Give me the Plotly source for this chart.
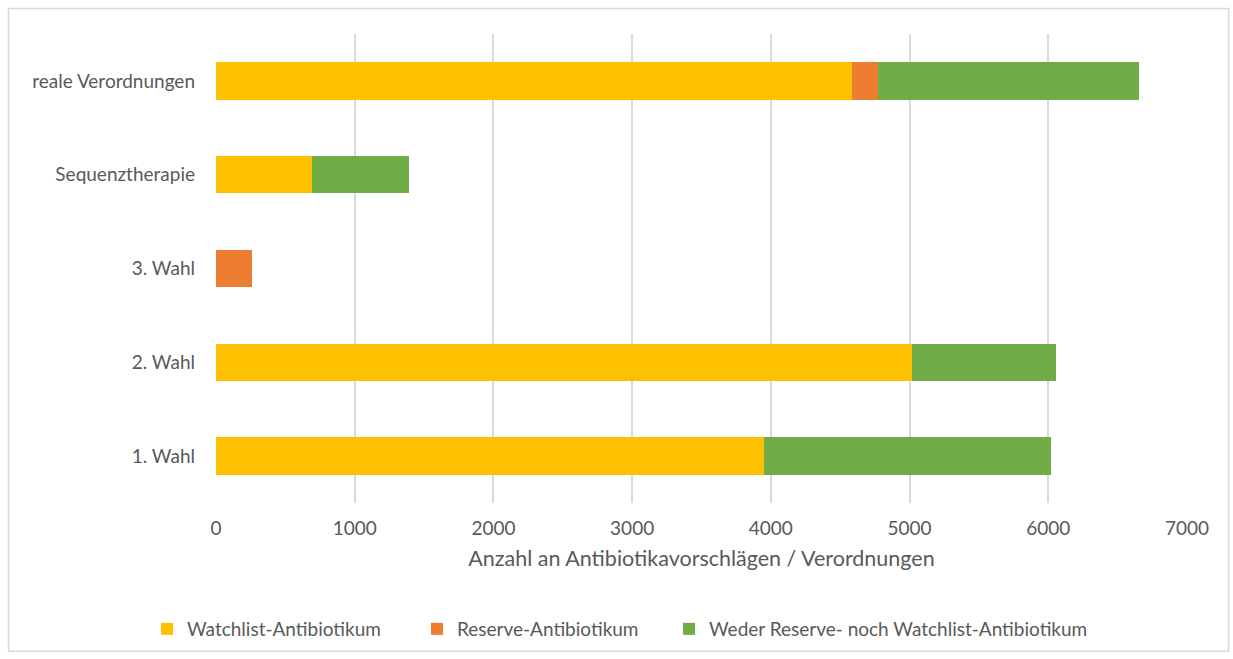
import plotly.graph_objects as go

# Kategorien (von unten nach oben)
categories = ["1. Wahl", "2. Wahl", "3. Wahl", "Sequenztherapie", "reale Verordnungen"]

# Anzahl je Kategorie und Antibiotika-Gruppe
watchlist = [3950, 5014, 0, 695, 4585]
reserve = [0, 0, 261, 0, 187]
weder = [2067, 1044, 0, 696, 1880]

series_names = ["Watchlist-Antibiotikum", "Reserve-Antibiotikum",
                "Weder Reserve- noch Watchlist-Antibiotikum"]
series_colors = ["#FFC000", "#ED7D31", "#70AD47"]

x_ticks = [0, 1000, 2000, 3000, 4000, 5000, 6000, 7000]
x_title = "Anzahl an Antibiotikavorschlägen / Verordnungen"

FONT = "Lato, Open Sans, sans-serif"
GREY = "#595959"

W, H = 1233, 659
L, R, T, B = 216, 46, 34, 155
pw, ph = W - L - R, H - T - B

def px_x(p):
    return (p - L) / pw

def px_y(p):
    return (H - B - p) / ph

# one legend box per series, placed side by side below the axis title
legend_ids = ["legend", "legend2", "legend3"]
legend_left_px = [147, 417, 669]

fig = go.Figure()
for name, vals, col, lid in zip(series_names, [watchlist, reserve, weder],
                                series_colors, legend_ids):
    fig.add_trace(go.Bar(
        y=categories, x=vals, name=name, orientation="h",
        marker=dict(color=col, line=dict(width=0)),
        legend=lid,
    ))

legend_layout = {}
for lid, lx in zip(legend_ids, legend_left_px):
    legend_layout[lid] = dict(
        orientation="h", x=px_x(lx), xanchor="left",
        y=px_y(629), yanchor="middle",
        font=dict(size=19, color=GREY),
        itemwidth=30,
        bgcolor="rgba(0,0,0,0)",
    )

fig.update_layout(
    width=W, height=H,
    margin=dict(l=L, r=R, t=T, b=B),
    barmode="stack",
    bargap=0.6,
    paper_bgcolor="white",
    plot_bgcolor="white",
    font=dict(family=FONT, color=GREY, size=19),
    showlegend=True,
    xaxis=dict(
        range=[0, 7000], tickvals=x_ticks, ticktext=[str(v) for v in x_ticks],
        showgrid=True, gridcolor="#D9D9D9", gridwidth=1.5,
        zeroline=False, showline=False, ticks="",
        tickfont=dict(size=19, color=GREY),
        ticklabelstandoff=12,
        title=dict(text=x_title, font=dict(size=21.5, color=GREY), standoff=12),
        fixedrange=True,
    ),
    yaxis=dict(
        categoryorder="array", categoryarray=categories,
        showgrid=False, zeroline=False, showline=False, ticks="",
        tickfont=dict(size=19, color=GREY),
        ticklabelstandoff=20,
        fixedrange=True,
    ),
    shapes=[dict(
        type="rect", xref="paper", yref="paper",
        x0=px_x(8.5), x1=px_x(1228.5), y0=px_y(652.5), y1=px_y(8.5),
        line=dict(color="#D9D9D9", width=1.5), fillcolor="rgba(0,0,0,0)",
        layer="below",
    )],
    **legend_layout,
)

fig.write_html("out.html")
